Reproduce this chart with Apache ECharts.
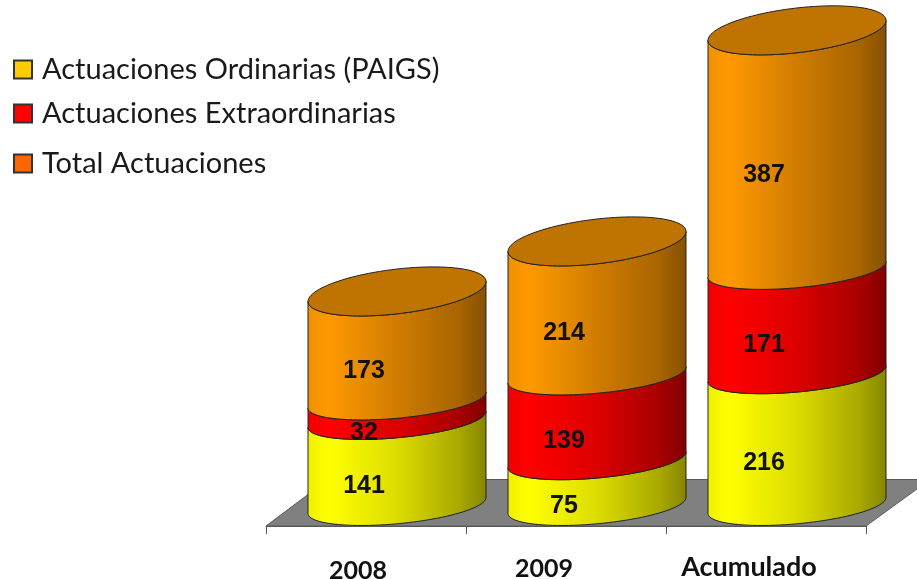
<!DOCTYPE html>
<html><head><meta charset="utf-8">
<style>html,body{margin:0;padding:0;background:#fff}#c{width:917px;height:579px}</style>
<script src="https://cdn.jsdelivr.net/npm/echarts@6/dist/echarts.min.js"></script>
</head><body><div id="c"></div>
<script>
const categories = ['2008', '2009', 'Acumulado'];
const ordinarias = [141, 75, 216];
const extraordinarias = [32, 139, 171];
const totales = [173, 214, 387];
const seriesNames = ['Actuaciones Ordinarias (PAIGS)', 'Actuaciones Extraordinarias', 'Total Actuaciones'];
const stacks = [ordinarias, extraordinarias, totales];

const grads = [
  ['#F0F000', '#FFFF00', '#DCDC00', '#A8A800', '#858500'],
  ['#F00000', '#FF0000', '#DC0000', '#A80000', '#800000'],
  ['#F09000', '#FF9900', '#D07C00', '#A86400', '#855000']
];
const lidColor = '#BF7300';
const DX = 31, DY = -20.5;

function arc(cx, cy, rx, sy, ry, reverse) {
  const pts = [];
  const n = 48;
  for (let i = 0; i <= n; i++) {
    const t = Math.PI * (reverse ? n - i : i) / n;
    pts.push([cx + rx * Math.cos(t), cy - sy * Math.cos(t) + ry * Math.sin(t)]);
  }
  return pts;
}
function fullEllipse(cx, cy, rx, sy, ry) {
  const pts = [];
  for (let i = 0; i < 96; i++) {
    const t = 2 * Math.PI * i / 96;
    pts.push([cx + rx * Math.cos(t), cy - sy * Math.cos(t) + ry * Math.sin(t)]);
  }
  return pts;
}
function cylinder(level) {
  return function (params, api) {
    const cat = api.value(0);
    let below = 0;
    for (let i = 0; i < level; i++) below += stacks[i][cat];
    const val = api.value(1);
    const p0 = api.coord([cat, below]);
    const p1 = api.coord([cat, below + val]);
    const mid = api.coord([cat, below + val / 2]);
    const rx = api.size([1, 0])[0] * 0.445;
    const cx = p0[0] + DX;
    const isTop = level === stacks.length - 1;
    const bottom = arc(cx, p0[1] + DY, rx, 8, 18.3, false);
    const top = isTop
      ? arc(cx, p1[1] + DY - 3, rx, 10, 22.4, true)
      : arc(cx, p1[1] + DY, rx, 8, 18.3, true);
    const stops = grads[level];
    const fill = {
      type: 'linear', x: 0, y: 0, x2: 1, y2: 0,
      colorStops: [
        { offset: 0, color: stops[0] }, { offset: 0.12, color: stops[1] },
        { offset: 0.5, color: stops[2] }, { offset: 0.85, color: stops[3] },
        { offset: 1, color: stops[4] }
      ]
    };
    const children = [{
      type: 'polygon',
      shape: { points: bottom.concat(top) },
      style: { fill: fill, stroke: '#222', lineWidth: 1 }
    }];
    if (isTop) {
      children.push({
        type: 'polygon',
        shape: { points: fullEllipse(cx, p1[1] + DY - 3, rx, 10, 22.4) },
        style: { fill: lidColor, stroke: '#222', lineWidth: 1 }
      });
    }
    children.push({
      type: 'text',
      z2: 100,
      style: {
        text: String(val), x: mid[0] - 2, y: mid[1] + 3,
        align: 'center', verticalAlign: 'middle',
        font: 'bold 25px "Liberation Sans"', fill: '#111'
      }
    });
    return { type: 'group', children: children };
  };
}
function floor(params, api) {
  const half = api.size([1, 0])[0] / 2;
  const first = api.coord([0, 0]);
  const last = api.coord([categories.length - 1, 0]);
  const L = first[0] - half, R = last[0] + half, B = first[1], H = 46.5;
  return {
    type: 'polygon',
    shape: { points: [[L, B], [R, B], [R + 64, B - H], [L + 62, B - H]] },
    style: { fill: '#808080', stroke: '#5a5a5a', lineWidth: 1 }
  };
}
const legendTops = [55, 99, 149];
const legendIcon = ['#FFCC00', '#FF0000', '#FF6600'];
const axisFont = { fontFamily: 'Lato', fontWeight: 'bold', color: '#111' };

const chart = echarts.init(document.getElementById('c'), null, { renderer: 'canvas' });
chart.setOption({
  animation: false,
  backgroundColor: '#fff',
  legend: seriesNames.map((n, i) => ({
    data: [n], left: 13, top: legendTops[i], padding: 0, itemWidth: 18, itemHeight: 18,
    selectedMode: false, icon: 'rect',
    textStyle: { fontFamily: 'Lato', fontSize: 29, color: '#1a1a1a', padding: [0, 0, 0, 5] }
  })),
  grid: { left: 266, width: 600, top: 38, height: 488, outerBoundsMode: 'none' },
  xAxis: {
    type: 'category', data: categories,
    axisLine: { lineStyle: { color: '#555', width: 1 } },
    axisTick: { show: true, length: 8, alignWithLabel: false, lineStyle: { color: '#555' } },
    axisLabel: {
      margin: 28, interval: 0,
      formatter: (v, i) => '{' + 'abc'[i] + '|' + v + '}',
      rich: {
        a: Object.assign({ fontSize: 25, padding: [4, 16, 0, 0] }, axisFont),
        b: Object.assign({ fontSize: 25, padding: [2, 44, 0, 0] }, axisFont),
        c: Object.assign({ fontSize: 27, padding: [0, 34, 0, 0] }, axisFont)
      }
    },
    splitLine: { show: false }
  },
  yAxis: { type: 'value', min: 0, max: 800, show: false, splitLine: { show: false } },
  series: [
    { type: 'custom', name: 'floor', silent: true, z: 1, renderItem: floor, data: [[0, 0]], clip: false, encode: { x: 0, y: 1 } }
  ].concat(stacks.map((arr, lv) => ({
    type: 'custom', name: seriesNames[lv], z: 3 + lv, clip: false,
    renderItem: cylinder(lv),
    itemStyle: { color: legendIcon[lv], borderColor: '#333', borderWidth: 1 },
    encode: { x: 0, y: 1 },
    data: arr.map((v, c) => [c, v])
  })))
});
</script></body></html>
